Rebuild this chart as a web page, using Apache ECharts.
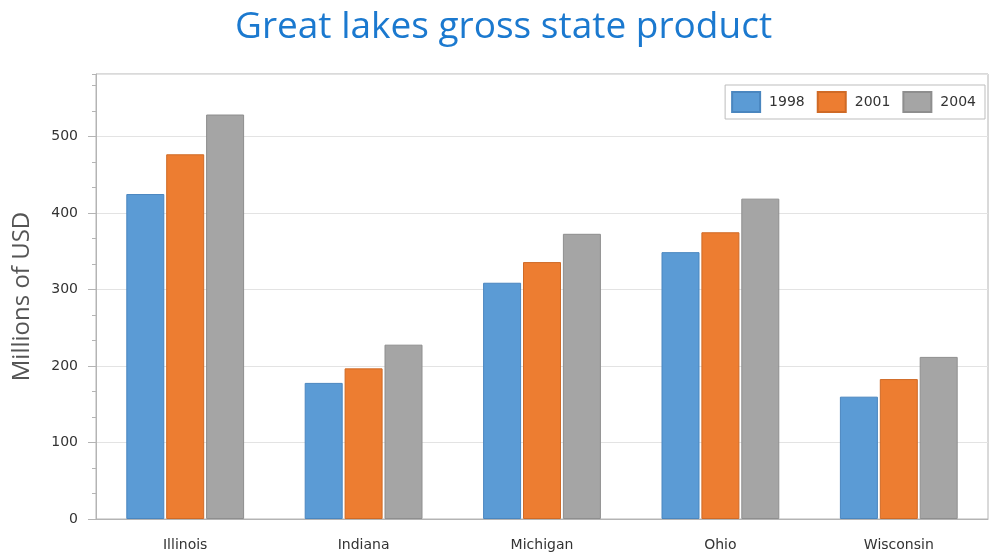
<!DOCTYPE html>
<html>
<head>
<meta charset="utf-8">
<script src="https://cdn.jsdelivr.net/npm/echarts@6/dist/echarts.min.js"></script>
<style>
  html, body { margin: 0; padding: 0; background: #ffffff; }
  #chart { width: 989px; height: 553px; }
</style>
</head>
<body>
<div id="chart"></div>
<script>
// Gross state product of the Great Lakes states, millions of USD
const states = ['Illinois', 'Indiana', 'Michigan', 'Ohio', 'Wisconsin'];
const years = ['1998', '2001', '2004'];
const gsp1998 = [425, 178, 309, 349, 160];
const gsp2001 = [477, 197, 336, 375, 183];
const gsp2004 = [529, 228, 373, 419, 212];
const yTickValues = [0, 100, 200, 300, 400, 500];

const yMax = 582;
const labelFont = 'DejaVu Sans';
const axisGray = '#b4b4b4';

const seriesValues = [gsp1998, gsp2001, gsp2004];
const fills = ['#5b9bd5', '#ed7d31', '#a5a5a5'];
const edges = ['#4a86bf', '#cf6a26', '#8e8e8e'];

// five minor tick slots per state band
const minorSlots = [];
states.forEach(() => { for (let i = 0; i < 5; i++) minorSlots.push(''); });

const chart = echarts.init(document.getElementById('chart'), null, { renderer: 'canvas' });

chart.setOption({
  backgroundColor: '#ffffff',
  animation: false,
  title: {
    text: 'Great lakes gross state product',
    left: 235,
    top: 9,
    padding: 0,
    textStyle: {
      fontFamily: 'Open Sans',
      fontSize: 37,
      fontWeight: 'normal',
      color: '#1b79cf'
    }
  },
  legend: {
    data: years,
    right: 4,
    top: 85,
    orient: 'horizontal',
    itemWidth: 28,
    itemHeight: 20,
    itemGap: 12,
    padding: [6, 9, 6, 6],
    borderColor: '#bdbdbd',
    borderWidth: 1,
    backgroundColor: '#ffffff',
    icon: 'rect',
    textStyle: {
      fontFamily: labelFont,
      fontSize: 14,
      color: '#333333',
      padding: [0, 0, 0, 4]
    }
  },
  grid: {
    left: 96,
    right: 1,
    top: 74,
    bottom: 34,
    show: true,
    borderColor: axisGray,
    borderWidth: 1,
    containLabel: false
  },
  xAxis: [
    {
      type: 'category',
      data: states,
      axisLine: { lineStyle: { color: axisGray } },
      axisTick: { alignWithLabel: true, length: 6, lineStyle: { color: axisGray } },
      axisLabel: { margin: 19, fontFamily: labelFont, fontSize: 14, color: '#333333' },
      splitLine: { show: false }
    },
    {
      type: 'category',
      data: minorSlots,
      position: 'bottom',
      axisLine: { show: false },
      axisTick: { alignWithLabel: true, interval: 0, length: 4, lineStyle: { color: axisGray } },
      axisLabel: { show: false },
      splitLine: { show: false }
    }
  ],
  yAxis: [
    {
      type: 'value',
      min: 0,
      max: yMax,
      interval: 100,
      name: 'Millions of USD',
      nameLocation: 'middle',
      nameGap: 62,
      nameTextStyle: { fontFamily: 'Open Sans', fontSize: 24, color: '#555555' },
      axisLine: { show: true, lineStyle: { color: axisGray } },
      axisTick: { show: true, length: 8, lineStyle: { color: axisGray } },
      axisLabel: {
        margin: 18,
        fontFamily: labelFont,
        fontSize: 14,
        color: '#333333',
        showMaxLabel: false,
        formatter: v => (yTickValues.indexOf(v) >= 0 ? String(v) : '')
      },
      splitLine: { show: true, lineStyle: { color: '#e3e3e3' } }
    },
    {
      type: 'value',
      position: 'left',
      min: 0,
      max: yMax,
      interval: 100 / 3,
      axisLine: { show: false },
      axisTick: { show: true, length: 4, lineStyle: { color: axisGray } },
      axisLabel: { show: false },
      splitLine: { show: false }
    }
  ],
  series: years.map((y, i) => ({
    name: y,
    type: 'bar',
    xAxisIndex: 0,
    yAxisIndex: 0,
    data: seriesValues[i],
    barWidth: 38,
    barGap: '5%',
    itemStyle: { color: fills[i], borderColor: edges[i], borderWidth: 1 }
  }))
});
</script>
</body>
</html>
